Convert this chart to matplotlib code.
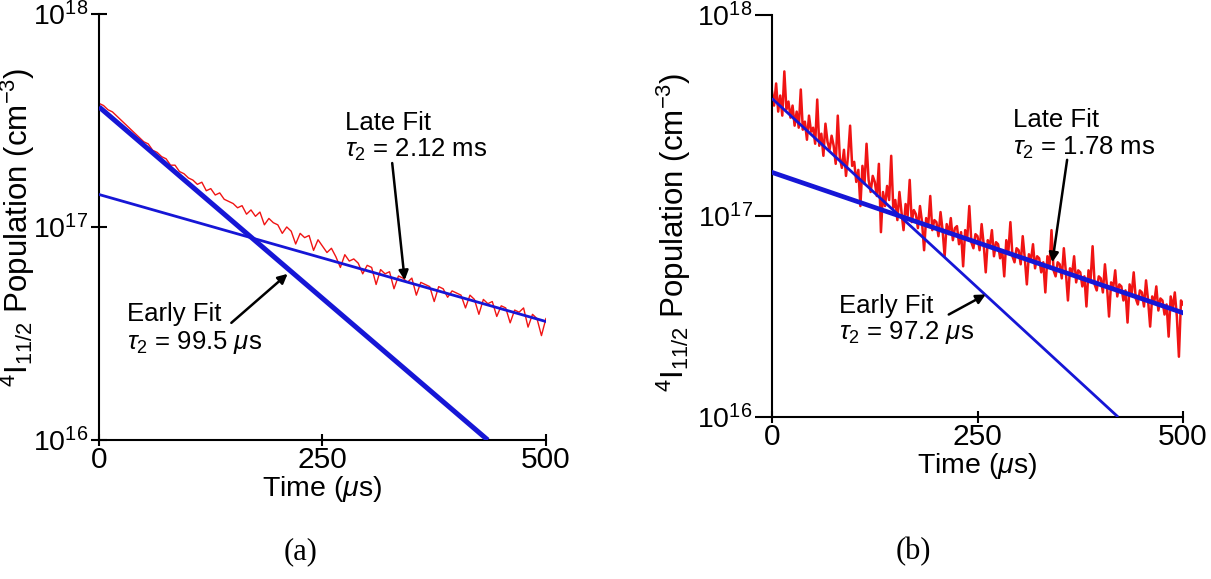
import numpy as np
import matplotlib
matplotlib.use("Agg")
from matplotlib import pyplot as plt

plt.rcParams['font.family'] = ['Liberation Sans', 'DejaVu Sans']
plt.rcParams['mathtext.fontset'] = 'custom'
plt.rcParams['mathtext.rm'] = 'Liberation Sans'
plt.rcParams['mathtext.it'] = 'Liberation Sans:italic'

# ---- data (log10 of population, cm^-3) ----
# panel (a): one point at t=0 for the pump rise, then every 5 us
t_a = [0] + list(range(0, 501, 5))
logpop_a = [16.35,
    17.58, 17.57, 17.55, 17.54, 17.52, 17.50, 17.48, 17.46, 17.44, 17.42,
    17.40, 17.39, 17.36, 17.35, 17.33, 17.32, 17.29, 17.29, 17.26, 17.25,
    17.23, 17.22, 17.20, 17.21, 17.17, 17.18, 17.15, 17.16, 17.13, 17.12,
    17.11, 17.09, 17.10, 17.06, 17.08, 17.05, 17.07, 17.01, 17.04, 17.02,
    17.01, 16.97, 17.00, 16.98, 16.92, 16.97, 16.95, 16.96, 16.89, 16.94,
    16.91, 16.88, 16.90, 16.86, 16.81, 16.87, 16.84, 16.85, 16.83, 16.78,
    16.82, 16.81, 16.73, 16.80, 16.78, 16.79, 16.71, 16.77, 16.76, 16.74,
    16.76, 16.68, 16.74, 16.73, 16.72, 16.65, 16.72, 16.71, 16.67, 16.70,
    16.69, 16.68, 16.62, 16.68, 16.66, 16.59, 16.66, 16.64, 16.65, 16.58,
    16.63, 16.62, 16.55, 16.61, 16.60, 16.62, 16.53, 16.59, 16.57, 16.49,
    16.57]

# panel (b): every 2.5 us
t_b = [i * 2.5 for i in range(201)]
logpop_b = [
    17.62, 17.55, 17.66, 17.52, 17.60, 17.50, 17.72, 17.53, 17.57, 17.49,
    17.55, 17.45, 17.52, 17.44, 17.63, 17.43, 17.47, 17.38, 17.50, 17.42,
    17.44, 17.36, 17.58, 17.35, 17.41, 17.30, 17.46, 17.37, 17.33, 17.40,
    17.35, 17.26, 17.50, 17.29, 17.24, 17.33, 17.20, 17.30, 17.45, 17.25,
    17.27, 17.17, 17.23, 17.05, 17.25, 17.16, 17.36, 17.18, 17.12, 17.20,
    17.17, 17.10, 17.26, 16.92, 17.12, 17.05, 17.15, 17.08, 17.30, 17.04,
    17.08, 16.98, 17.12, 17.02, 16.93, 17.06, 17.00, 17.18, 16.97, 17.03,
    17.01, 16.94, 17.05, 16.97, 16.83, 16.99, 16.95, 17.10, 16.93, 16.98,
    16.97, 16.90, 17.02, 16.93, 16.80, 16.96, 16.91, 16.99, 16.88, 16.94,
    16.95, 16.86, 16.92, 16.75, 16.93, 16.89, 17.05, 16.87, 16.84, 16.91,
    16.90, 16.83, 16.96, 16.86, 16.72, 16.88, 16.85, 16.93, 16.80, 16.87,
    16.86, 16.79, 16.83, 16.70, 16.88, 16.82, 16.97, 16.80, 16.77, 16.84,
    16.83, 16.76, 16.90, 16.79, 16.66, 16.81, 16.78, 16.86, 16.74, 16.80,
    16.79, 16.72, 16.77, 16.62, 16.80, 16.75, 16.93, 16.73, 16.70, 16.77,
    16.76, 16.69, 16.84, 16.72, 16.58, 16.74, 16.71, 16.80, 16.67, 16.73,
    16.72, 16.65, 16.70, 16.55, 16.73, 16.68, 16.85, 16.66, 16.63, 16.70,
    16.69, 16.62, 16.76, 16.65, 16.50, 16.67, 16.64, 16.73, 16.60, 16.66,
    16.65, 16.58, 16.63, 16.47, 16.66, 16.61, 16.72, 16.59, 16.56, 16.63,
    16.62, 16.55, 16.68, 16.58, 16.45, 16.60, 16.57, 16.65, 16.53, 16.59,
    16.58, 16.51, 16.56, 16.40, 16.60, 16.54, 16.62, 16.50, 16.30, 16.58,
    16.56]

# fit lines: end points (time us, population cm^-3)
early_a = ([0, 435], [3.66e17, 1.0e16])
late_a = ([0, 500], [1.42e17, 3.6e16])
early_b = ([0, 421], [3.85e17, 1.0e16])
late_b = ([0, 500], [1.65e17, 3.3e16])

labels_a = ("Late Fit", r"$\tau_2$ = 2.12 ms", "Early Fit", r"$\tau_2$ = 99.5 $\mu$s")
labels_b = ("Late Fit", r"$\tau_2$ = 1.78 ms", "Early Fit", r"$\tau_2$ = 97.2 $\mu$s")

RED = '#f01414'
BLUE = '#1616d6'
FS = 18.5

fig = plt.figure(figsize=(12.11, 5.79), dpi=100)
ax1 = fig.add_axes([0.0818, 0.240, 0.369, 0.736])
ax2 = fig.add_axes([0.6375, 0.2798, 0.3394, 0.694])


def setup(ax, tickdir, label_xy):
    ax.set_yscale('log')
    ax.set_xlim(0, 500)
    ax.set_ylim(1e16, 1e18)
    ax.set_yticks([1e16, 1e17, 1e18])
    ax.set_yticklabels([r'$10^{16}$', r'$10^{17}$', r'$10^{18}$'])
    ax.minorticks_off()
    ax.set_xticks([0, 250, 500])
    ax.spines['top'].set_visible(False)
    ax.spines['right'].set_visible(False)
    for s in ('left', 'bottom'):
        ax.spines[s].set_linewidth(1.5)
    ax.tick_params(axis='y', direction=tickdir, length=12, width=1.5, labelsize=20.5, pad=2)
    ax.tick_params(axis='x', direction='inout', length=9, width=1.5, labelsize=21.5, pad=0)
    ax.set_xlabel(r'Time ($\mu$s)', fontsize=20.5, labelpad=0)
    ax.set_ylabel(r'$^4$I$_{11/2}$ Population (cm$^{-3}$)', fontsize=22.5)
    ax.yaxis.set_label_coords(*label_xy)
    ax.patch.set_alpha(0)


# panel (a)
setup(ax1, 'inout', (-0.139, 0.5))
ax1.yaxis.get_major_ticks()[1].tick1line.set_color(RED)
ax1.plot(t_a, 10 ** np.array(logpop_a), color=RED, lw=1.0, zorder=2)
ax1.plot(*early_a, color=BLUE, lw=3.6, zorder=3, solid_capstyle='butt')
ax1.plot(*late_a, color=BLUE, lw=2.0, zorder=3)
ax1.text(275, 10 ** 17.49, labels_a[0], fontsize=FS, va='center')
ax1.text(275, 10 ** 17.36, labels_a[1], fontsize=FS, va='center')
ax1.text(31, 10 ** 16.59, labels_a[2], fontsize=FS, va='center')
ax1.text(31, 10 ** 16.46, labels_a[3], fontsize=FS, va='center')
arrow = dict(arrowstyle='-|>', color='black', lw=1.8, mutation_scale=14, shrinkA=0, shrinkB=0)
ax1.annotate('', xy=(342, 10 ** 16.75), xytext=(328, 10 ** 17.30), arrowprops=arrow)
ax1.annotate('', xy=(211, 10 ** 16.78), xytext=(148, 10 ** 16.55), arrowprops=arrow)

# panel (b)
setup(ax2, 'out', (-0.192, 0.46))
ax2.plot(t_b, 10 ** np.array(logpop_b), color=RED, lw=1.8, zorder=2)
ax2.plot(*early_b, color=BLUE, lw=2.0, zorder=3, solid_capstyle='butt')
ax2.plot(*late_b, color=BLUE, lw=3.4, zorder=3)
ax2.text(293, 10 ** 17.48, labels_b[0], fontsize=FS, va='center')
ax2.text(293, 10 ** 17.34, labels_b[1], fontsize=FS, va='center')
ax2.text(81, 10 ** 16.55, labels_b[2], fontsize=FS, va='center')
ax2.text(81, 10 ** 16.42, labels_b[3], fontsize=FS, va='center')
ax2.annotate('', xy=(341, 10 ** 16.77), xytext=(359, 10 ** 17.28), arrowprops=arrow)
ax2.annotate('', xy=(260, 10 ** 16.61), xytext=(215, 10 ** 16.51), arrowprops=arrow)

fig.text(301 / 1211, 1 - 552 / 579, '(a)', fontsize=22, family='Liberation Serif', ha='center', va='center')
fig.text(913 / 1211, 1 - 552 / 579, '(b)', fontsize=22, family='Liberation Serif', ha='center', va='center')

fig.savefig('out.png', dpi=100)
